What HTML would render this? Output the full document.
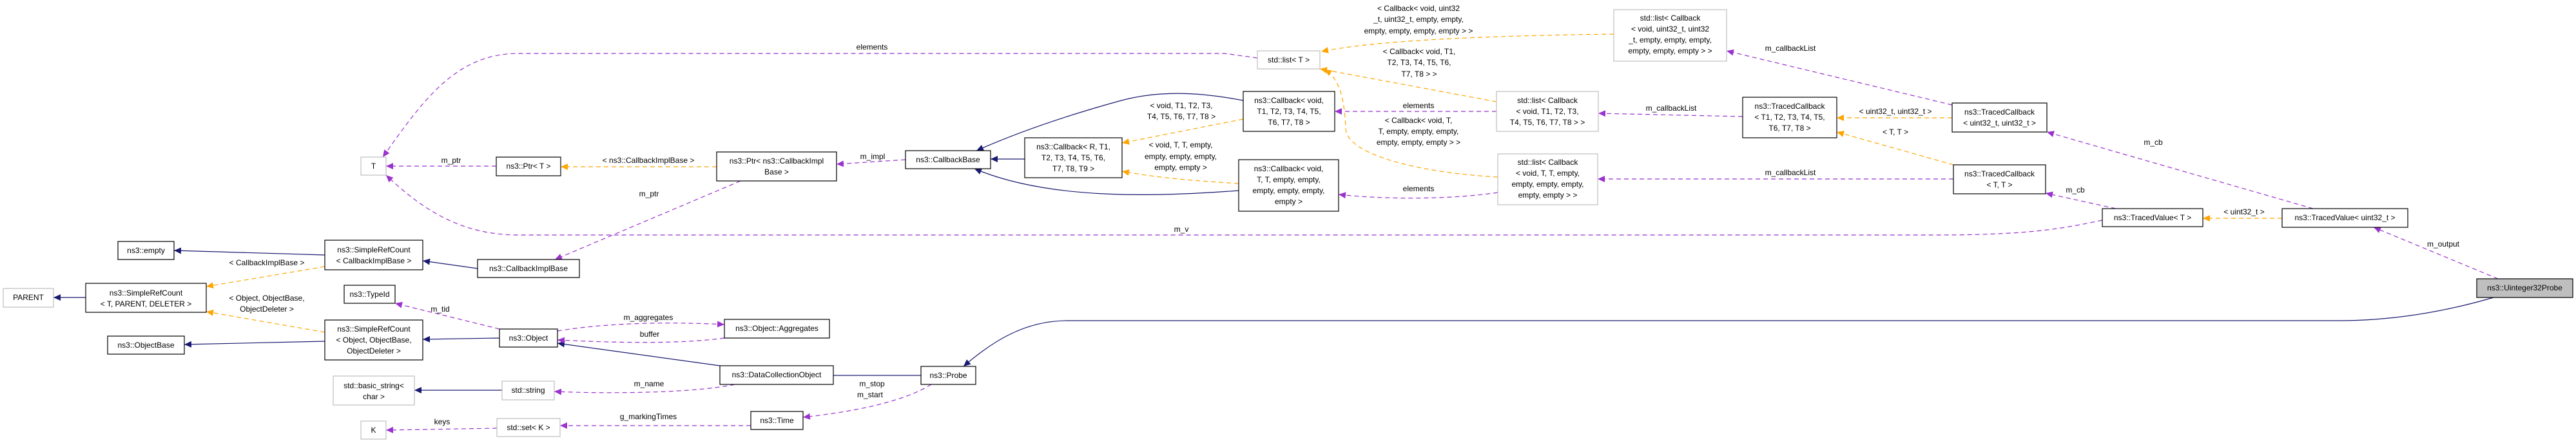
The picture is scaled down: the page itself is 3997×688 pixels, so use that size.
<!DOCTYPE html>
<html><head><meta charset="utf-8"><style>
html,body{margin:0;padding:0;background:#fff;}
svg{display:block;}
text{font-family:"Liberation Sans",sans-serif;font-size:12px;fill:#000;}
.b{fill:#fff;stroke:#000;stroke-width:1.2;}
.g{fill:#fff;stroke:#bfbfbf;stroke-width:1.2;}
.blue{fill:none;stroke:#191970;stroke-width:1.2;}
.or{fill:none;stroke:#ffa500;stroke-width:1.2;stroke-dasharray:7,5;}
.pu{fill:none;stroke:#9a32cd;stroke-width:1.2;stroke-dasharray:7,5;}
</style></head><body>
<svg width="3997" height="688" viewBox="0 0 3997 688" xmlns="http://www.w3.org/2000/svg">
<defs>
<marker id="mb" markerWidth="12" markerHeight="10" refX="11" refY="5" orient="auto" markerUnits="userSpaceOnUse"><path d="M0,0 L11,5 L0,10 z" fill="#191970"/></marker>
<marker id="mo" markerWidth="12" markerHeight="10" refX="11" refY="5" orient="auto" markerUnits="userSpaceOnUse"><path d="M0,0 L11,5 L0,10 z" fill="#ffa500"/></marker>
<marker id="mp" markerWidth="12" markerHeight="10" refX="11" refY="5" orient="auto" markerUnits="userSpaceOnUse"><path d="M0,0 L11,5 L0,10 z" fill="#9a32cd"/></marker>
</defs>

<!-- blue edges -->
<path class="blue" marker-end="url(#mb)" d="M504,396 L270,389"/>
<path class="blue" marker-end="url(#mb)" d="M133,462 L83,462"/>
<path class="blue" marker-end="url(#mb)" d="M504,530 L286,535"/>
<path class="blue" marker-end="url(#mb)" d="M741,417 L656,405"/>
<path class="blue" marker-end="url(#mb)" d="M775,525 L656,527"/>
<path class="blue" marker-end="url(#mb)" d="M779,606 L643,606"/>
<path class="blue" marker-end="url(#mb)" d="M1117,568 L865,533"/>
<path class="blue" marker-end="url(#mb)" d="M1429,583 L1142,583"/>
<path class="blue" marker-end="url(#mb)" d="M3869,462 C3780,488 3700,498 3629,498 L1656,498 C1590,498 1540,530 1495,569"/>
<path class="blue" marker-end="url(#mb)" d="M1590,247 L1537,247"/>
<path class="blue" marker-end="url(#mb)" d="M1929,156 C1860,143 1800,140 1740,156 C1660,178 1580,205 1515,234"/>
<path class="blue" marker-end="url(#mb)" d="M1922,296 C1800,305 1630,312 1512,262"/>

<!-- orange edges -->
<path class="or" marker-end="url(#mo)" d="M504,414 L320,445"/>
<path class="or" marker-end="url(#mo)" d="M504,516 L320,484"/>
<path class="or" marker-end="url(#mo)" d="M1112,259 L870,259"/>
<path class="or" marker-end="url(#mo)" d="M1929,185 L1741,222"/>
<path class="or" marker-end="url(#mo)" d="M1922,285 C1840,280 1790,275 1741,266"/>
<path class="or" marker-end="url(#mo)" d="M2504,53 C2350,55 2150,60 2050,80"/>
<path class="or" marker-end="url(#mo)" d="M2322,158 L2048,107"/>
<path class="or" marker-end="url(#mo)" d="M2324,275 C2200,268 2090,240 2088,200 C2086,150 2078,122 2055,108"/>
<path class="or" marker-end="url(#mo)" d="M3029,183 L2850,183"/>
<path class="or" marker-end="url(#mo)" d="M3031,256 L2850,205"/>
<path class="or" marker-end="url(#mo)" d="M3541,339 L3418,339"/>

<!-- purple edges -->
<path class="pu" marker-end="url(#mp)" d="M1951,90 L1900,83 L805,83 C710,83 660,150 594,244"/>
<path class="pu" marker-end="url(#mp)" d="M770,258 L599,258"/>
<path class="pu" marker-end="url(#mp)" d="M1149,281 L861,403"/>
<path class="pu" marker-end="url(#mp)" d="M1405,248 L1298,255"/>
<path class="pu" marker-end="url(#mp)" d="M3262,342 C3200,355 3150,365 3000,365 L805,365 C720,365 660,330 599,272"/>
<path class="pu" marker-end="url(#mp)" d="M775,511 L613,471"/>
<path class="pu" marker-end="url(#mp)" d="M865,514 C950,500 1050,500 1124,504"/>
<path class="pu" marker-end="url(#mp)" d="M1124,525 C1050,535 950,532 865,528"/>
<path class="pu" marker-end="url(#mp)" d="M1140,597 C1080,610 950,612 860,608"/>
<path class="pu" marker-end="url(#mp)" d="M1165,661 L869,661"/>
<path class="pu" marker-end="url(#mp)" d="M771,665 L599,668"/>
<path class="pu" marker-end="url(#mp)" d="M1445,597 C1400,625 1320,640 1246,648"/>
<path class="pu" marker-end="url(#mp)" d="M2322,173 L2071,173"/>
<path class="pu" marker-end="url(#mp)" d="M2324,299 C2250,310 2150,310 2077,302"/>
<path class="pu" marker-end="url(#mp)" d="M2704,181 L2480,176"/>
<path class="pu" marker-end="url(#mp)" d="M3029,163 L2679,79"/>
<path class="pu" marker-end="url(#mp)" d="M3031,278 L2479,278"/>
<path class="pu" marker-end="url(#mp)" d="M3589,324 L3176,205"/>
<path class="pu" marker-end="url(#mp)" d="M3283,324 L3174,300"/>
<path class="pu" marker-end="url(#mp)" d="M3876,433 L3683,353"/>

<!-- edge labels -->
<g text-anchor="middle">
<text x="414" y="412">&lt; CallbackImplBase &gt;</text>
<text x="414" y="467">&lt; Object, ObjectBase,</text>
<text x="414" y="484">ObjectDeleter &gt;</text>
<text x="700" y="253">m_ptr</text>
<text x="683" y="484">m_tid</text>
<text x="686" y="659">keys</text>
<text x="1006" y="253">&lt; ns3::CallbackImplBase &gt;</text>
<text x="1007" y="305">m_ptr</text>
<text x="1354" y="247">m_impl</text>
<text x="1006" y="497">m_aggregates</text>
<text x="1008" y="523">buffer</text>
<text x="1007" y="600">m_name</text>
<text x="1006" y="651">g_markingTimes</text>
<text x="1353" y="600">m_stop</text>
<text x="1350" y="617">m_start</text>
<text x="1353" y="77">elements</text>
<text x="1833" y="168">&lt; void, T1, T2, T3,</text>
<text x="1833" y="185">T4, T5, T6, T7, T8 &gt;</text>
<text x="1832" y="229">&lt; void, T, T, empty,</text>
<text x="1832" y="247">empty, empty, empty,</text>
<text x="1832" y="264">empty, empty &gt;</text>
<text x="1833" y="360">m_v</text>
<text x="2201" y="17">&lt; Callback&lt; void, uint32</text>
<text x="2201" y="34">_t, uint32_t, empty, empty,</text>
<text x="2201" y="52">empty, empty, empty, empty &gt; &gt;</text>
<text x="2202" y="84">&lt; Callback&lt; void, T1,</text>
<text x="2202" y="101">T2, T3, T4, T5, T6,</text>
<text x="2202" y="119">T7, T8 &gt; &gt;</text>
<text x="2201" y="168">elements</text>
<text x="2201" y="191">&lt; Callback&lt; void, T,</text>
<text x="2201" y="208">T, empty, empty, empty,</text>
<text x="2201" y="225">empty, empty, empty &gt; &gt;</text>
<text x="2201" y="297">elements</text>
<text x="2593" y="172">m_callbackList</text>
<text x="2778" y="79">m_callbackList</text>
<text x="2778" y="272">m_callbackList</text>
<text x="2941" y="177">&lt; uint32_t, uint32_t &gt;</text>
<text x="2941" y="209">&lt; T, T &gt;</text>
<text x="3341" y="225">m_cb</text>
<text x="3220" y="299">m_cb</text>
<text x="3482" y="333">&lt; uint32_t &gt;</text>
<text x="3791" y="383">m_output</text>
</g>

<!-- nodes -->
<g text-anchor="middle">
<rect class="g" x="560" y="244" width="39" height="28"/><text x="579.5" y="262">T</text>
<rect class="b" x="183" y="375" width="87" height="28"/><text x="226.5" y="393">ns3::empty</text>
<rect class="b" x="504" y="373" width="152" height="46"/><text x="580" y="392">ns3::SimpleRefCount</text><text x="580" y="409">&lt; CallbackImplBase &gt;</text>
<rect class="g" x="5" y="448" width="78" height="29"/><text x="44" y="466">PARENT</text>
<rect class="b" x="133" y="440" width="187" height="45"/><text x="226.5" y="459">ns3::SimpleRefCount</text><text x="226.5" y="476">&lt; T, PARENT, DELETER &gt;</text>
<rect class="b" x="534" y="443" width="79" height="28"/><text x="573.5" y="461">ns3::TypeId</text>
<rect class="b" x="167" y="522" width="119" height="28"/><text x="226.5" y="540">ns3::ObjectBase</text>
<rect class="b" x="504" y="497" width="152" height="62"/><text x="580" y="515">ns3::SimpleRefCount</text><text x="580" y="532">&lt; Object, ObjectBase,</text><text x="580" y="549">ObjectDeleter &gt;</text>
<rect class="g" x="517" y="584" width="126" height="45"/><text x="580" y="603">std::basic_string&lt;</text><text x="580" y="620">char &gt;</text>
<rect class="g" x="560" y="654" width="39" height="28"/><text x="579.5" y="672">K</text>
<rect class="b" x="770" y="244" width="100" height="29"/><text x="820" y="262">ns3::Ptr&lt; T &gt;</text>
<rect class="b" x="1112" y="236" width="186" height="45"/><text x="1205" y="254">ns3::Ptr&lt; ns3::CallbackImpl</text><text x="1205" y="271">Base &gt;</text>
<rect class="b" x="741" y="403" width="158" height="28"/><text x="820" y="421">ns3::CallbackImplBase</text>
<rect class="b" x="775" y="511" width="90" height="28"/><text x="820" y="529">ns3::Object</text>
<rect class="b" x="1124" y="496" width="163" height="29"/><text x="1205.5" y="514">ns3::Object::Aggregates</text>
<rect class="b" x="1117" y="568" width="176" height="29"/><text x="1205" y="586">ns3::DataCollectionObject</text>
<rect class="g" x="779" y="592" width="81" height="29"/><text x="819.5" y="610">std::string</text>
<rect class="g" x="771" y="650" width="98" height="28"/><text x="820" y="668">std::set&lt; K &gt;</text>
<rect class="b" x="1165" y="639" width="81" height="28"/><text x="1205.5" y="657">ns3::Time</text>
<rect class="b" x="1429" y="569" width="85" height="28"/><text x="1471.5" y="587">ns3::Probe</text>
<rect class="b" x="1405" y="234" width="132" height="28"/><text x="1471" y="252">ns3::CallbackBase</text>
<rect class="b" x="1590" y="214" width="151" height="62"/><text x="1665.5" y="232">ns3::Callback&lt; R, T1,</text><text x="1665.5" y="249">T2, T3, T4, T5, T6,</text><text x="1665.5" y="266">T7, T8, T9 &gt;</text>
<rect class="g" x="1951" y="79" width="97" height="28"/><text x="1999.5" y="97">std::list&lt; T &gt;</text>
<rect class="b" x="1929" y="142" width="142" height="62"/><text x="2000" y="160">ns3::Callback&lt; void,</text><text x="2000" y="177">T1, T2, T3, T4, T5,</text><text x="2000" y="194">T6, T7, T8 &gt;</text>
<rect class="b" x="1922" y="248" width="155" height="80"/><text x="1999.5" y="266">ns3::Callback&lt; void,</text><text x="1999.5" y="283">T, T, empty, empty,</text><text x="1999.5" y="300">empty, empty, empty,</text><text x="1999.5" y="317">empty &gt;</text>
<rect class="g" x="2504" y="15" width="175" height="80"/><text x="2591.5" y="32">std::list&lt; Callback</text><text x="2591.5" y="49">&lt; void, uint32_t, uint32</text><text x="2591.5" y="66">_t, empty, empty, empty,</text><text x="2591.5" y="83">empty, empty, empty &gt; &gt;</text>
<rect class="g" x="2322" y="142" width="158" height="62"/><text x="2401" y="160">std::list&lt; Callback</text><text x="2401" y="177">&lt; void, T1, T2, T3,</text><text x="2401" y="194">T4, T5, T6, T7, T8 &gt; &gt;</text>
<rect class="g" x="2324" y="239" width="155" height="79"/><text x="2401.5" y="256">std::list&lt; Callback</text><text x="2401.5" y="273">&lt; void, T, T, empty,</text><text x="2401.5" y="290">empty, empty, empty,</text><text x="2401.5" y="307">empty, empty &gt; &gt;</text>
<rect class="b" x="2704" y="151" width="146" height="63"/><text x="2777" y="169">ns3::TracedCallback</text><text x="2777" y="186">&lt; T1, T2, T3, T4, T5,</text><text x="2777" y="203">T6, T7, T8 &gt;</text>
<rect class="b" x="3029" y="160" width="147" height="45"/><text x="3102.5" y="178">ns3::TracedCallback</text><text x="3102.5" y="195">&lt; uint32_t, uint32_t &gt;</text>
<rect class="b" x="3031" y="256" width="143" height="45"/><text x="3102.5" y="274">ns3::TracedCallback</text><text x="3102.5" y="291">&lt; T, T &gt;</text>
<rect class="b" x="3262" y="324" width="156" height="28"/><text x="3340" y="342">ns3::TracedValue&lt; T &gt;</text>
<rect class="b" x="3541" y="324" width="195" height="29"/><text x="3638.5" y="342">ns3::TracedValue&lt; uint32_t &gt;</text>
<rect x="3843" y="433" width="149" height="29" fill="#bfbfbf" stroke="#000" stroke-width="1.2"/><text x="3917.5" y="451">ns3::Uinteger32Probe</text>
</g>
</svg>
</body></html>
